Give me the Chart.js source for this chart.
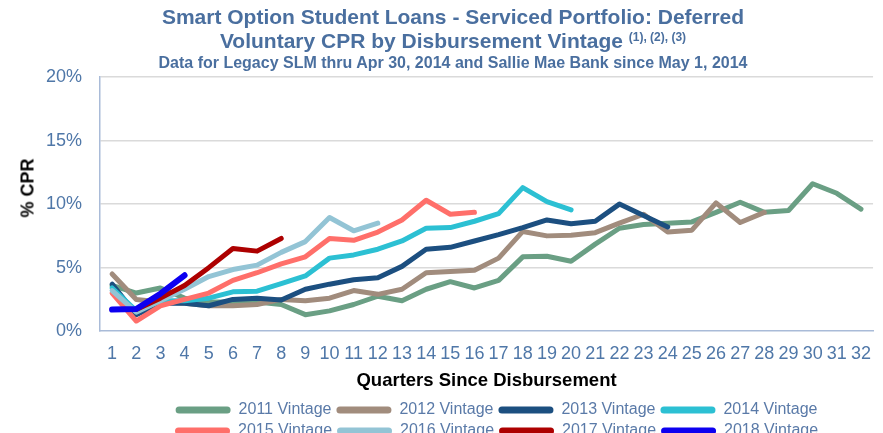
<!DOCTYPE html>
<html lang="en">
<head>
    <meta charset="UTF-8">
    <title>Deferred Voluntary CPR by Disbursement Vintage</title>
    <style>
        body {
            margin: 0;
            background: #fff;
            font-family: "Liberation Sans", Arial, sans-serif;
            overflow: hidden;
        }
        .wrap {
            position: relative;
            width: 883px;
            height: 449px;
        }
        /* Title block above the plot */
        .title {
            position: absolute;
            top: 5px;
            left: 0;
            width: 906px;
            text-align: center;
            color: #4a6f9f;
            font-weight: bold;
        }
        .title .t1 {
            font-size: 21px;
            line-height: 24px;
        }
        .title .t2 {
            font-size: 16px;
            line-height: 14px;
        }
        .title .sup {
            font-size: 12px;
            position: relative;
            top: -7px;
        }
        .ytitle {
            position: absolute;
            left: 28px;
            top: 188px;
            transform: translate(-50%, -50%) rotate(-90deg);
            white-space: nowrap;
            font-weight: bold;
            font-size: 18px;
            color: #000;
        }
        canvas {
            position: absolute;
            top: 0;
            left: 0;
        }
    </style>
</head>
<body>
<div class="wrap">
    <canvas id="chart" width="883" height="449"></canvas>
    <div class="title">
        <div class="t1">Smart Option Student Loans - Serviced Portfolio: Deferred</div>
        <div class="t1">Voluntary CPR by Disbursement Vintage <span class="sup">(1), (2), (3)</span></div>
        <div class="t2">Data for Legacy SLM thru Apr 30, 2014 and Sallie Mae Bank since May 1, 2014</div>
    </div>
    <div class="ytitle">% CPR</div>
</div>

<script src="https://cdn.jsdelivr.net/npm/chart.js"></script>
<script>
    // Quarters since disbursement (x categories)
    const quarters = ['1', '2', '3', '4', '5', '6', '7', '8', '9', '10', '11', '12', '13', '14', '15', '16',
        '17', '18', '19', '20', '21', '22', '23', '24', '25', '26', '27', '28', '29', '30', '31', '32'];

    // Voluntary CPR (%) per vintage
    const v2011 = [3.6, 3.0, 3.4, 2.6, 2.3, 2.3, 2.3, 2.1, 1.3, 1.6, 2.1, 2.75, 2.4, 3.3, 3.9, 3.4,
        4.0, 5.85, 5.9, 5.5, 6.85, 8.1, 8.4, 8.5, 8.6, 9.35, 10.15, 9.35, 9.5, 11.6, 10.85, 9.6];
    const v2012 = [4.5, 2.5, 2.3, 2.2, 2.0, 2.0, 2.1, 2.5, 2.4, 2.6, 3.2, 2.9, 3.3, 4.6, 4.7, 4.8,
        5.75, 7.85, 7.5, 7.55, 7.75, 8.5, 9.2, 7.8, 7.95, 10.1, 8.55, 9.35];
    const v2013 = [3.7, 1.3, 2.2, 2.2, 2.0, 2.5, 2.6, 2.45, 3.3, 3.7, 4.05, 4.2, 5.1, 6.45, 6.6, 7.1,
        7.6, 8.15, 8.75, 8.45, 8.65, 10.0, 9.1, 8.2];
    const v2014 = [3.4, 1.6, 2.4, 2.4, 2.6, 3.1, 3.15, 3.75, 4.35, 5.75, 6.0, 6.45, 7.1, 8.1, 8.15, 8.65,
        9.25, 11.3, 10.2, 9.55];
    const v2015 = [3.0, 0.8, 2.0, 2.5, 3.0, 4.0, 4.6, 5.3, 5.85, 7.3, 7.15, 7.8, 8.75, 10.3, 9.2, 9.35];
    const v2016 = [3.2, 1.5, 2.4, 3.3, 4.3, 4.85, 5.2, 6.2, 7.05, 8.95, 7.9, 8.5];
    const v2017 = [1.7, 1.7, 2.6, 3.6, 5.0, 6.5, 6.3, 7.3];
    const v2018 = [1.7, 1.75, 2.95, 4.4];

    const vintageNames = ['2011 Vintage', '2012 Vintage', '2013 Vintage', '2014 Vintage',
        '2015 Vintage', '2016 Vintage', '2017 Vintage', '2018 Vintage'];
    const vintageValues = [v2011, v2012, v2013, v2014, v2015, v2016, v2017, v2018];
    const vintageColors = ['#6a9f84', '#a18c7d', '#1c4f80', '#2cc0d3',
        '#ff6f6a', '#93c4d5', '#ad0000', '#0d00f0'];

    const tickColor = '#4f77a8';

    const datasets = vintageNames.map((name, i) => ({
        label: name,
        data: vintageValues[i],
        borderColor: vintageColors[i],
        backgroundColor: vintageColors[i],
        borderWidth: i === 7 ? 6 : 5,
        borderJoinStyle: 'round',
        borderCapStyle: 'round',
        pointRadius: 0,
        tension: 0,
        fill: false,
        // later vintages drawn on top
        order: vintageNames.length - 1 - i
    }));

    // nudge the legend a bit to the right, like the original
    const legendShift = {
        id: 'legendShift',
        afterLayout(chart) {
            chart.legend.left += 10;
            chart.legend.right += 10;
        }
    };

    new Chart(document.getElementById('chart').getContext('2d'), {
        type: 'line',
        data: { labels: quarters, datasets: datasets },
        plugins: [legendShift],
        options: {
            responsive: false,
            devicePixelRatio: 1,
            animation: false,
            layout: {
                padding: { top: 77, left: 28, right: 1, bottom: 0 }
            },
            plugins: {
                title: { display: false },
                tooltip: { enabled: false },
                legend: {
                    position: 'bottom',
                    fullSize: false,
                    labels: {
                        boxWidth: 55,
                        boxHeight: 7,
                        padding: 5,
                        color: '#5a7aa8',
                        font: { family: 'Liberation Sans, Arial', size: 16 },
                        sort: (a, b) => a.datasetIndex - b.datasetIndex,
                        generateLabels: (chart) => {
                            const items = Chart.defaults.plugins.legend.labels.generateLabels(chart);
                            items.forEach(it => {
                                it.lineWidth = 0;
                                it.fillStyle = it.strokeStyle;
                                it.borderRadius = 3.5;
                            });
                            return items;
                        },
                        useBorderRadius: true,
                        borderRadius: 3.5
                    }
                }
            },
            scales: {
                x: {
                    type: 'category',
                    offset: true,
                    grid: { display: false, drawTicks: false },
                    border: { display: true, color: '#a9bbd8', width: 1.5 },
                    ticks: {
                        color: tickColor,
                        padding: 12,
                        autoSkip: false,
                        maxRotation: 0,
                        font: { family: 'Liberation Sans, Arial', size: 18 }
                    },
                    title: {
                        display: true,
                        text: 'Quarters Since Disbursement',
                        color: '#000',
                        padding: { top: -7, bottom: 5 },
                        font: { family: 'Liberation Sans, Arial', size: 18.5, weight: 'bold', lineHeight: 1.2 }
                    }
                },
                y: {
                    min: 0,
                    max: 20,
                    grid: {
                        drawTicks: false,
                        lineWidth: 1.5,
                        color: (ctx) => ctx.tick && ctx.tick.value === 0 ? 'rgba(0,0,0,0)' : '#dadada'
                    },
                    border: { display: true, color: '#a9bbd8', width: 1.5 },
                    ticks: {
                        stepSize: 5,
                        padding: 18,
                        color: tickColor,
                        font: { family: 'Liberation Sans, Arial', size: 18 },
                        callback: (v) => v + '%'
                    }
                }
            }
        }
    });
</script>
</body>
</html>
